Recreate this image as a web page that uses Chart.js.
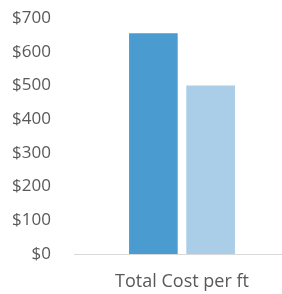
<!DOCTYPE html>
<html>
<head>
<meta charset="utf-8">
<script src="https://cdn.jsdelivr.net/npm/chart.js@4/dist/chart.umd.min.js"></script>
<style>
  html, body { margin: 0; padding: 0; background: #fff; overflow: hidden; }
  #wrap { width: 290px; height: 294px; }
  canvas { display: block; }
</style>
</head>
<body>
<div id="wrap"><canvas id="myChart" width="290" height="294"></canvas></div>
<script>
// values
let categories = ['Total Cost per ft'];
let seriesNames = ['Series 1', 'Series 2'];
let seriesA = [655];
let seriesB = [500];
let yTicks = [0, 100, 200, 300, 400, 500, 600, 700];

let labelColor = '#595959';

let ctx = document.getElementById('myChart').getContext('2d');
let chart = new Chart(ctx, {
    type: 'bar',
    data: {
        labels: categories,
        datasets: [{
            label: seriesNames[0],
            backgroundColor: 'rgb(74, 155, 208)',
            data: seriesA,
            barPercentage: 0.85,
            categoryPercentage: 0.53
        }, {
            label: seriesNames[1],
            backgroundColor: 'rgb(170, 205, 232)',
            data: seriesB,
            barPercentage: 0.85,
            categoryPercentage: 0.53
        }]
    },
    options: {
        responsive: false,
        animation: false,
        layout: { padding: { top: 18, right: 0, bottom: 0, left: 0 } },
        plugins: {
            legend: { display: false },
            tooltip: { enabled: false }
        },
        scales: {
            x: {
                grid: { display: false, drawTicks: false },
                border: { display: true, color: '#d9d9d9', width: 1 },
                afterFit: (scale) => { scale.height = 40; },
                ticks: {
                    color: labelColor,
                    padding: 17,
                    font: { family: 'Open Sans', size: 18 }
                }
            },
            y: {
                min: yTicks[0],
                max: yTicks[yTicks.length - 1],
                grid: { display: false, drawTicks: false },
                border: { display: false },
                afterFit: (scale) => {
                    scale.width = 74;
                    scale.paddingTop = 0;
                    scale.paddingBottom = 0;
                },
                afterBuildTicks: (scale) => {
                    scale.ticks = yTicks.map(v => ({ value: v }));
                },
                ticks: {
                    color: labelColor,
                    padding: 23,
                    font: { family: 'Open Sans', size: 17 },
                    callback: (v) => '$' + v
                }
            }
        }
    }
});
</script>
</body>
</html>
